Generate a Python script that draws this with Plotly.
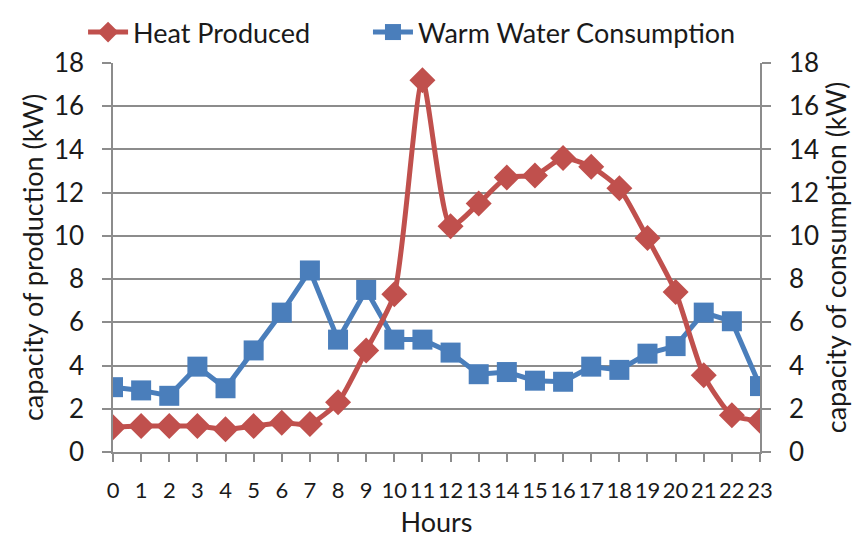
import plotly.graph_objects as go

hours = list(range(24))
hour_labels = [str(h) for h in hours]
heat_produced = [1.15, 1.2, 1.2, 1.2, 1.05, 1.2, 1.35, 1.3, 2.3, 4.7, 7.3, 17.2, 10.45,
                 11.5, 12.7, 12.8, 13.6, 13.2, 12.2, 9.9, 7.4, 3.55, 1.7, 1.45]
warm_water = [3.0, 2.85, 2.6, 3.95, 2.95, 4.7, 6.45, 8.4, 5.2, 7.5, 5.2, 5.2, 4.6,
              3.6, 3.7, 3.3, 3.25, 3.95, 3.8, 4.55, 4.9, 6.45, 6.05, 3.05]
y_ticks = list(range(0, 19, 2))

RED = "#C0504D"
BLUE = "#4A7EBB"
GRID = "#8C8C8C"
TXT = "#1a1a1a"
FONT = "Lato"

fig = go.Figure()
fig.add_trace(go.Scatter(
    x=hours, y=warm_water, name="Warm Water Consumption", yaxis="y",
    mode="lines+markers", legend="legend2",
    line=dict(color=BLUE, width=5),
    marker=dict(symbol="square", size=20, color=BLUE),
))
fig.add_trace(go.Scatter(
    x=hours, y=heat_produced, name="Heat Produced", yaxis="y2",
    mode="lines+markers", legend="legend",
    line=dict(color=RED, width=5, shape="spline", smoothing=0.6),
    marker=dict(symbol="diamond", size=20, color=RED),
))

axis_common = dict(
    range=[0, 18], tickvals=y_ticks, ticks="outside", ticklen=9, tickcolor=GRID,
    tickwidth=1.5, showline=True, linecolor=GRID, linewidth=1.5,
    tickfont=dict(family=FONT, size=26, color=TXT), zeroline=False,
    ticklabelstandoff=13,
)

legend_common = dict(
    orientation="h", xref="container", xanchor="left",
    y=1.0, yanchor="top", yref="container",
    font=dict(family=FONT, size=27, color=TXT),
    itemwidth=40, bgcolor="rgba(0,0,0,0)",
)

fig.update_layout(
    width=853, height=530,
    margin=dict(l=105, r=101, t=55, b=86, autoexpand=False),
    paper_bgcolor="white", plot_bgcolor="white",
    font=dict(family=FONT, color=TXT),
    showlegend=True,
    legend=dict(**legend_common, x=0.088),
    legend2=dict(**legend_common, x=0.422),
    xaxis=dict(
        range=[0, 23], tickvals=hours, ticktext=hour_labels, tickangle=0,
        ticks="outside", ticklen=8, tickcolor=GRID, tickwidth=1.5,
        showline=True, linecolor=GRID, linewidth=1.5, showgrid=False, zeroline=False,
        tickfont=dict(family=FONT, size=22, color=TXT), ticklabelstandoff=10,
        title=dict(text="Hours", font=dict(family=FONT, size=27, color=TXT), standoff=12),
    ),
    yaxis=dict(
        **axis_common, side="left", showgrid=True, gridcolor=GRID, gridwidth=1.5,
        title=dict(text="capacity of production (kW)", font=dict(family=FONT, size=27, color=TXT), standoff=2),
    ),
    yaxis2=dict(
        **axis_common, side="right", overlaying="y", showgrid=False,
        title=dict(text="capacity of consumption (kW)", font=dict(family=FONT, size=27, color=TXT), standoff=2),
    ),
)

fig.write_html("out.html")
